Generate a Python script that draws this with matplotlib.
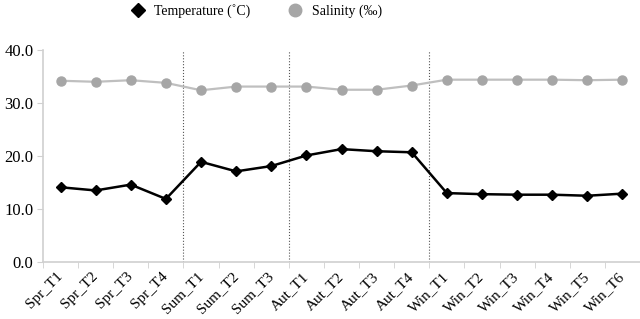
import numpy as np
import matplotlib.pyplot as plt
from matplotlib.lines import Line2D

plt.rcParams['font.family'] = ['Liberation Serif', 'DejaVu Serif']

labels = ['Spr_T1', 'Spr_T2', 'Spr_T3', 'Spr_T4',
          'Sum_T1', 'Sum_T2', 'Sum_T3',
          'Aut_T1', 'Aut_T2', 'Aut_T3', 'Aut_T4',
          'Win_T1', 'Win_T2', 'Win_T3', 'Win_T4', 'Win_T5', 'Win_T6']
temperature = [14.1, 13.5, 14.6, 11.9, 18.9, 17.1, 18.1, 20.1, 21.3, 20.9, 20.7,
               13.0, 12.8, 12.7, 12.7, 12.5, 12.9]
salinity = [34.2, 34.0, 34.3, 33.8, 32.4, 33.1, 33.1, 33.1, 32.5, 32.5, 33.3,
            34.4, 34.4, 34.4, 34.4, 34.3, 34.4]
season_sizes = [4, 3, 4, 6]

x = np.arange(len(labels))

fig = plt.figure(figsize=(6.4, 3.19), dpi=100)
ax = fig.add_axes([43/640, 57/319, 597/640, 212/319])

ax.plot(x, salinity, color='#bfbfbf', lw=1.6, marker='o', ms=6.5,
        mfc='#a6a6a6', mec='#a6a6a6', zorder=3)
ax.plot(x, temperature, color='black', lw=1.8, marker='D', ms=5.5, zorder=4)

# season separators
b = np.cumsum(season_sizes)[:-1] - 0.5
for xb in b:
    ax.plot([xb, xb], [0, 40], color='#555555', lw=0.8, ls=':', zorder=2)

ax.set_xlim(-0.5, len(labels) - 0.5)
ax.set_ylim(0, 40)
ax.set_yticks([0, 10, 20, 30, 40])
ax.set_yticklabels(['%.1f' % v for v in [0, 10, 20, 30, 40]], fontsize=12)
ax.set_xticks(x)
ax.set_xticklabels(labels, rotation=45, ha='right', va='center',
                   rotation_mode='anchor', fontsize=11)
ax.tick_params(axis='x', length=0, pad=9)
ax.set_xticks(np.arange(-0.5, len(labels)), minor=True)
ax.tick_params(axis='x', which='minor', length=4, color='#d0d0d0')
ax.tick_params(axis='y', length=4, color='#d0d0d0', pad=3)

for s in ['top', 'right']:
    ax.spines[s].set_visible(False)
for s in ['left', 'bottom']:
    ax.spines[s].set_color('#d0d0d0')
    ax.spines[s].set_linewidth(1.2)

handles = [Line2D([], [], color='black', marker='D', ls='none', ms=7),
           Line2D([], [], color='#a6a6a6', marker='o', ls='none', ms=9)]
fig.legend(handles, ['Temperature (˚C)', 'Salinity (‰)'], loc='upper center',
           bbox_to_anchor=(0.395, 1.025), ncol=2, frameon=False, fontsize=10,
           handletextpad=0.2, columnspacing=2.2)

fig.savefig('out.png', dpi=100)
